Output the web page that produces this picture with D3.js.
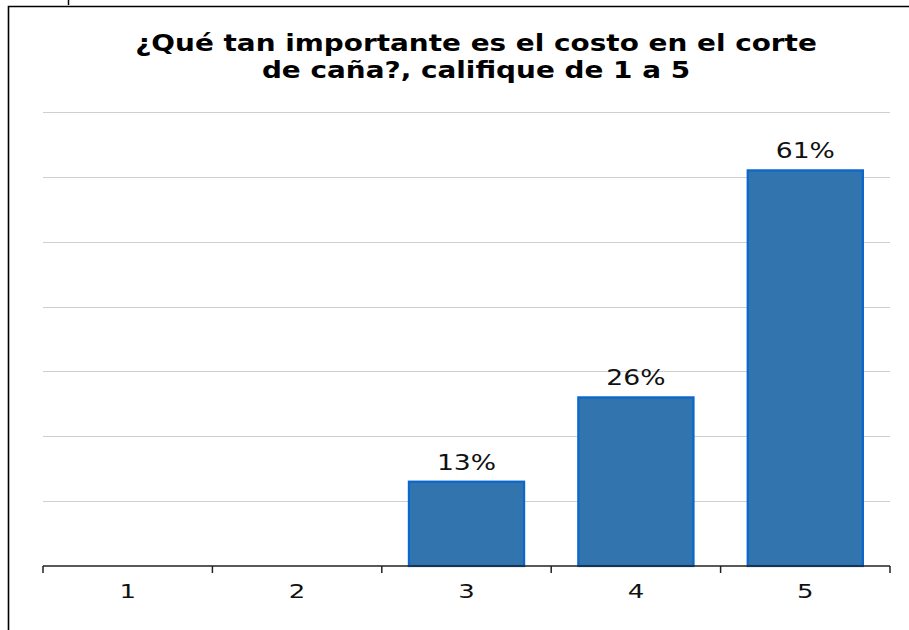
<!DOCTYPE html>
<html>
<head>
<meta charset="utf-8">
<script src="https://cdn.jsdelivr.net/npm/d3@7"></script>
<style>
  body { margin: 0; background: #fff; }
  svg { display: block; font-family: "DejaVu Sans", Verdana, sans-serif; }
</style>
</head>
<body>
<svg id="chart" width="909" height="630"></svg>
<script>
var categories = ["1", "2", "3", "4", "5"];
var values = [0, 0, 13, 26, 61];
var labels = ["", "", "13%", "26%", "61%"];
var yTicks = [0, 10, 20, 30, 40, 50, 60, 70];
var titleLines = ["¿Qué tan importante es el costo en el corte", "de caña?, califique de 1 a 5"];

var width = 909, height = 630;
var margin = {top: 112, right: 19, bottom: 64, left: 43};
var sx = 1.3; // the picture is stretched sideways, so the text is too

var svg = d3.select("#chart");

// frame of the chart box
svg.append("path")
  .attr("d", "M8.5,630V6.5H909")
  .attr("fill", "none")
  .attr("stroke", "#000")
  .attr("stroke-width", 1.6);
svg.append("line")
  .attr("x1", 68.5).attr("x2", 68.5).attr("y1", 0).attr("y2", 5)
  .attr("stroke", "#000").attr("stroke-width", 1.5);

var x = d3.scaleBand()
  .domain(categories)
  .range([margin.left, width - margin.right])
  .paddingInner(0.32)
  .paddingOuter(0.16);

var y = d3.scaleLinear()
  .domain([0, 70])
  .range([height - margin.bottom, margin.top]);

// gridlines
svg.append("g")
  .selectAll("line")
  .data(yTicks.slice(1))
  .join("line")
    .attr("x1", margin.left)
    .attr("x2", width - margin.right)
    .attr("y1", function(d) { return Math.round(y(d)) + 0.5; })
    .attr("y2", function(d) { return Math.round(y(d)) + 0.5; })
    .attr("stroke", "#cfcfcf")
    .attr("stroke-width", 1);

// bars
svg.append("g")
  .selectAll("rect")
  .data(values)
  .join("rect")
    .attr("x", function(d, i) { return x(categories[i]); })
    .attr("y", function(d) { return y(d); })
    .attr("width", x.bandwidth())
    .attr("height", function(d) { return y(0) - y(d); })
    .attr("fill", "#3174ae")
    .attr("stroke", "#0a67cc")
    .attr("stroke-width", 2.2)
    .style("display", function(d) { return d > 0 ? null : "none"; });

// x axis with ticks between categories
var axisY = y(0);
var edges = d3.range(categories.length + 1).map(function(i) {
  return margin.left + i * (width - margin.left - margin.right) / categories.length;
});
var axis = svg.append("g");
axis.append("line")
  .attr("x1", margin.left).attr("x2", width - margin.right)
  .attr("y1", axisY).attr("y2", axisY)
  .attr("stroke", "#222").attr("stroke-width", 1.5);
axis.selectAll(".tick")
  .data(edges)
  .join("line")
    .attr("class", "tick")
    .attr("x1", function(d) { return d; }).attr("x2", function(d) { return d; })
    .attr("y1", axisY).attr("y2", axisY + 7)
    .attr("stroke", "#222").attr("stroke-width", 1.5);

function stretchedText(sel, tx, ty, s) {
  return sel.attr("transform", "translate(" + tx + "," + ty + ") scale(" + (s || sx) + ",1)");
}

// category labels
axis.selectAll("text")
  .data(categories)
  .join("text")
    .attr("text-anchor", "middle")
    .attr("font-size", 20)
    .attr("fill", "#111")
    .text(function(d) { return d; })
    .each(function(d) {
      stretchedText(d3.select(this), x(d) + x.bandwidth() / 2, axisY + 32);
    });

// value labels
svg.append("g")
  .selectAll("text")
  .data(values)
  .join("text")
    .attr("text-anchor", "middle")
    .attr("font-size", 20.5)
    .attr("fill", "#111")
    .text(function(d, i) { return labels[i]; })
    .each(function(d, i) {
      stretchedText(d3.select(this), x(categories[i]) + x.bandwidth() / 2, y(d) - 12);
    });

// title
svg.append("g")
  .selectAll("text")
  .data(titleLines)
  .join("text")
    .attr("text-anchor", "middle")
    .attr("font-size", 22.5)
    .attr("font-weight", "bold")
    .attr("fill", "#000")
    .text(function(d) { return d; })
    .each(function(d, i) {
      stretchedText(d3.select(this), 476, 51 + i * 27, 1.24);
    });
</script>
</body>
</html>
